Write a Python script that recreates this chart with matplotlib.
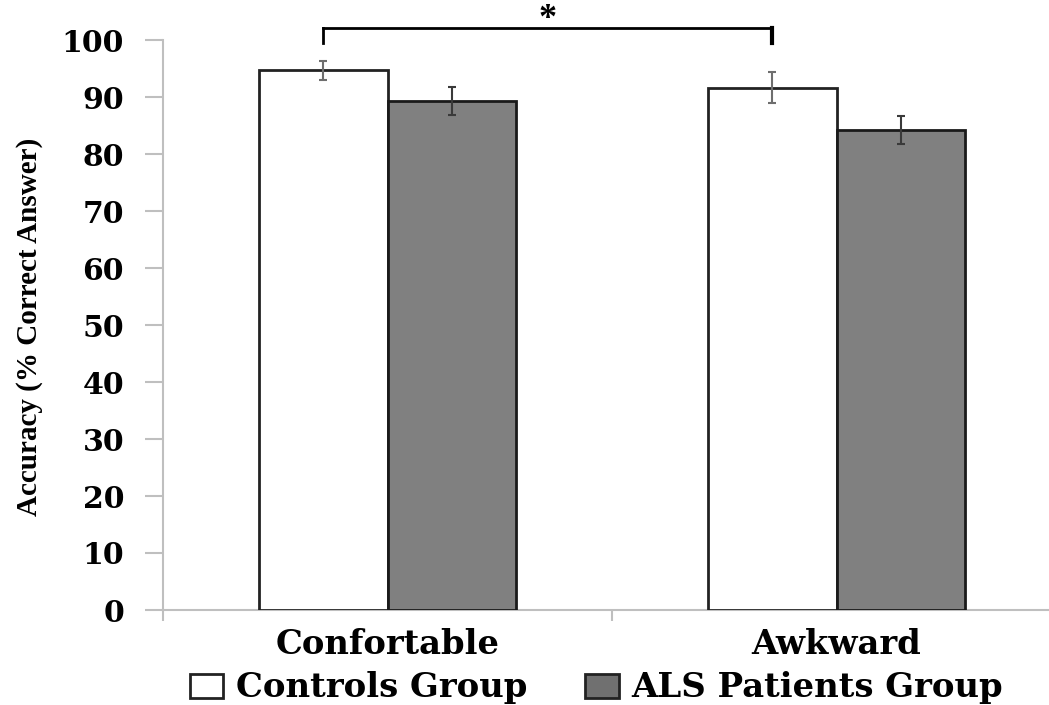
import matplotlib
matplotlib.use("Agg")
import matplotlib.pyplot as plt
import numpy as np
from matplotlib.patches import Patch
from matplotlib.ticker import FixedLocator
from matplotlib.transforms import blended_transform_factory

# Data
conditions = ["Confortable", "Awkward"]
groups = ["Controls Group", "ALS Patients Group"]
controls_mean = [94.7, 91.6]
controls_err = [1.7, 2.7]
als_mean = [89.3, 84.2]
als_err = [2.5, 2.5]
y_ticks = [0, 10, 20, 30, 40, 50, 60, 70, 80, 90, 100]
sig_label = "*"

W, H = 1049, 705
fig = plt.figure(figsize=(W / 100, H / 100), dpi=100)
ax = fig.add_axes([163 / W, 1 - 610 / H, (1061 - 163) / W, 570 / H])

x = np.arange(len(conditions))
bw = 0.286
axis_grey = "#bfbfbf"

ax.bar(x - bw / 2, controls_mean, width=bw, color="white", edgecolor="#222222",
       linewidth=2, zorder=3)
ax.bar(x + bw / 2, als_mean, width=bw, color="#808080", edgecolor="#1a1a1a",
       linewidth=2, zorder=3)
ax.errorbar(x - bw / 2, controls_mean, yerr=controls_err, fmt="none",
            ecolor="#6e6e6e", elinewidth=1.5, capsize=3, capthick=1.5, zorder=4)
ax.errorbar(x + bw / 2, als_mean, yerr=als_err, fmt="none",
            ecolor="#3a3a3a", elinewidth=1.5, capsize=3, capthick=1.5, zorder=4)

ax.set_xlim(-0.5, 1.5)
ax.set_ylim(0, 100)

for s in ["top", "right"]:
    ax.spines[s].set_visible(False)
for s in ["left", "bottom"]:
    ax.spines[s].set_color(axis_grey)
    ax.spines[s].set_linewidth(1.5)

ax.set_yticks(y_ticks)
ax.set_yticklabels([str(v) for v in y_ticks], fontfamily="DejaVu Serif",
                   fontweight="bold", fontsize=21.5)
ax.tick_params(axis="y", length=13, width=1.5, color=axis_grey, pad=15)

ax.set_xticks(x)
ax.set_xticklabels(conditions, fontfamily="DejaVu Serif", fontweight="bold",
                   fontsize=24.3)
ax.tick_params(axis="x", which="major", length=0, pad=13)
ax.xaxis.set_minor_locator(FixedLocator([-0.5, 0.5, 1.5]))
ax.tick_params(axis="x", which="minor", length=8, width=1.5, color=axis_grey)

# significance bracket between the two control bars
x1, x2 = x[0] - bw / 2, x[1] - bw / 2
ax.plot([x1, x1], [99.5, 102.1], color="black", lw=2, clip_on=False, zorder=5)
ax.plot([x2, x2], [99.5, 102.1], color="black", lw=3, clip_on=False, zorder=5)
ax.plot([x1, x2], [102.1, 102.1], color="black", lw=2, clip_on=False,
        solid_capstyle="projecting", zorder=5)
star_tr = blended_transform_factory(ax.transData, fig.transFigure)
ax.text((x1 + x2) / 2, 0.996, sig_label, ha="center", va="top",
        transform=star_tr, fontsize=26, fontweight="bold",
        fontfamily="Liberation Serif")

fig.text(30 / W, 1 - 327 / H, "Accuracy (% Correct Answer)", rotation=90,
         ha="center", va="center", fontfamily="Liberation Serif",
         fontweight="bold", fontsize=21)

handles = [Patch(facecolor="white", edgecolor="#222222", linewidth=2),
           Patch(facecolor="#707070", edgecolor="#222222", linewidth=2)]
fig.legend(handles, groups, loc="center", ncol=2,
           bbox_to_anchor=(596 / W, 1 - 688 / H), frameon=False,
           prop={"family": "DejaVu Serif", "weight": "bold", "size": 24.4},
           handlelength=1.0, handleheight=0.7, handletextpad=0.36,
           columnspacing=1.7, borderpad=0)

fig.savefig("out.png", dpi=100)
